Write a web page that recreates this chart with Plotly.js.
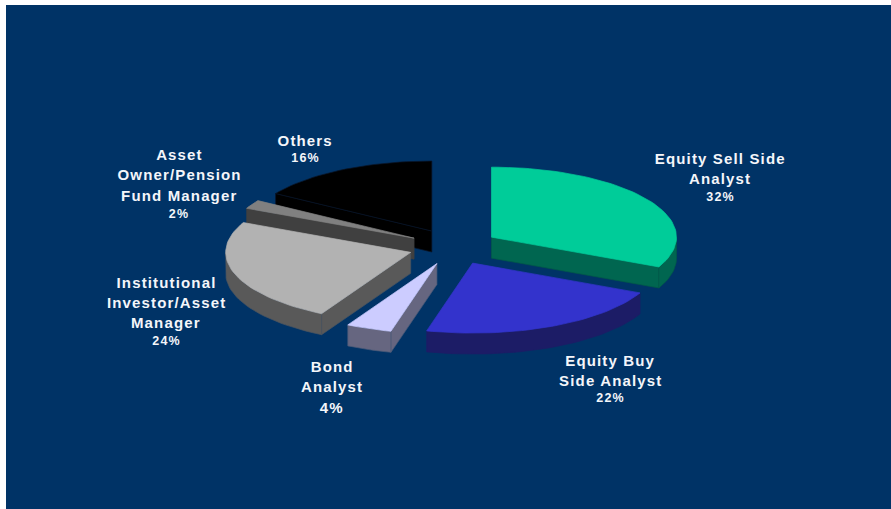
<!DOCTYPE html>
<html>
<head>
<meta charset="utf-8">
<script src="https://cdn.plot.ly/plotly-3.0.1.min.js"></script>
<style>
  html, body { margin: 0; padding: 0; background: #fff; }
  #chart { width: 891px; height: 509px; }
  #chart .annotation-text { letter-spacing: 1.15px; }
</style>
</head>
<body>
<div id="chart"></div>
<script>
// Survey respondents by role, in percent, clockwise from twelve o'clock.
const roles = [
  "Equity Sell Side Analyst",
  "Equity Buy Side Analyst",
  "Bond Analyst",
  "Institutional Investor/Asset Manager",
  "Asset Owner/Pension Fund Manager",
  "Others"
];
const shares = [32, 22, 4, 24, 2, 16];
const topColors = ["#00CC99", "#3333CC", "#CCCCFF", "#B2B2B2", "#808080", "#000000"];
const wallColors = ["#006650", "#1C1C66", "#666680", "#595959", "#404040", "#000000"];
const seamColors = ["#005a48", "#1C1C66", "#4a5a78", "#4a5560", "#404040", "#081426"];

// Label lines per role, split the way they wrap on the chart.
const labelLines = [
  ["Equity Sell Side", "Analyst"],
  ["Equity Buy", "Side Analyst"],
  ["Bond", "Analyst"],
  ["Institutional", "Investor/Asset", "Manager"],
  ["Asset", "Owner/Pension", "Fund Manager"],
  ["Others"]
];
const labelX = [720, 610, 332, 166, 179, 305];
const labelTopY = [158, 360, 366, 282, 154, 140];
const labelGap = [20, 20, 20, 20, 20.5, 20];
const pctOffset = [19, 18, 21, 19, 19, 18];
const pctSize = [12.5, 12.5, 15, 12.5, 12.5, 12.5];

// Tilted-disc projection of the exploded pie, in page-pixel axis units.
const pie = { cx: 453.5, cy: 246.8, rx: 185, ry: 70, depth: 21, pullX: 45, pullY: 18 };
const rad = d => d * Math.PI / 180;
const onRim = (apex, deg, drop) => [
  apex[0] + pie.rx * Math.sin(rad(deg)),
  apex[1] - pie.ry * Math.cos(rad(deg)) + drop
];
function arc(apex, from, to, drop) {
  const pts = [];
  const n = Math.max(2, Math.ceil(Math.abs(to - from) / 2));
  for (let i = 0; i <= n; i++) pts.push(onRim(apex, from + (to - from) * i / n, drop));
  return pts;
}
function face(pts, fill, seam) {
  const closed = pts.concat([pts[0]]);
  return {
    type: "scatter", mode: "lines", hoverinfo: "skip", showlegend: false,
    x: closed.map(p => p[0]), y: closed.map(p => p[1]),
    fill: "toself", fillcolor: fill,
    line: { color: seam, width: 0.7 }
  };
}

// Build the faces of every slice: hidden cut faces and back rims are left out.
const total = shares.reduce((a, b) => a + b, 0);
let running = 0;
const slices = shares.map((share, i) => {
  const start = running / total * 360;
  running += share;
  const end = running / total * 360;
  const mid = (start + end) / 2;
  const apex = [pie.cx + pie.pullX * Math.sin(rad(mid)), pie.cy - pie.pullY * Math.cos(rad(mid))];
  const faces = [];
  const wall = wallColors[i], seam = seamColors[i];
  if (Math.sin(rad(start)) < 0) {
    const p = onRim(apex, start, 0);
    faces.push(face([apex, p, [p[0], p[1] + pie.depth], [apex[0], apex[1] + pie.depth]], wall, seam));
  }
  if (Math.sin(rad(end)) > 0) {
    const p = onRim(apex, end, 0);
    faces.push(face([apex, p, [p[0], p[1] + pie.depth], [apex[0], apex[1] + pie.depth]], wall, seam));
  }
  const a = Math.max(start, 90), b = Math.min(end, 270);
  if (b > a) {
    faces.push(face(arc(apex, a, b, 0).concat(arc(apex, b, a, pie.depth)), wall, seam));
  }
  faces.push(face([apex].concat(arc(apex, start, end, 0)), topColors[i], i === 5 ? seam : topColors[i]));
  return faces;
});

// Painter's order: furthest slices first.
const drawOrder = [5, 4, 3, 0, 2, 1];
const traces = drawOrder.flatMap(i => slices[i]);

const annotations = [];
const note = (text, x, y, size) => annotations.push({
  text, x, y, xref: "x", yref: "y", showarrow: false,
  xanchor: "center", yanchor: "middle",
  font: { family: "Liberation Sans, Arial, sans-serif", size, color: "#F4F6FA", weight: 700 }
});
roles.forEach((role, i) => {
  let y = labelTopY[i];
  labelLines[i].forEach((line, k) => {
    y = labelTopY[i] + k * labelGap[i];
    note("<b>" + line + "</b>", labelX[i], y, 15);
  });
  note("<b>" + shares[i] + "%</b>", labelX[i], y + pctOffset[i], pctSize[i]);
});

const hiddenAxis = { visible: false, fixedrange: true, showgrid: false, zeroline: false };
const layout = {
  width: 891, height: 509,
  margin: { l: 6, r: 0, t: 5, b: 0, pad: 0 },
  paper_bgcolor: "#FFFFFF",
  plot_bgcolor: "#003366",
  showlegend: false,
  xaxis: Object.assign({ range: [6, 891] }, hiddenAxis),
  yaxis: Object.assign({ range: [509, 5] }, hiddenAxis),
  annotations
};

Plotly.newPlot("chart", traces, layout, { staticPlot: true, displayModeBar: false });
</script>
</body>
</html>
